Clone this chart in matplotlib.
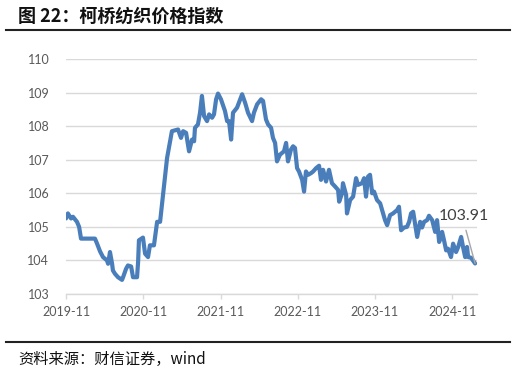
import matplotlib
matplotlib.use("Agg")
import matplotlib.pyplot as plt
import matplotlib.dates as mdates
from matplotlib.lines import Line2D
import pandas as pd

plt.rcParams['font.family'] = ['Noto Sans CJK SC', 'DejaVu Sans']

title = "图 22：柯桥纺织价格指数"
source = "资料来源：财信证券，wind"

dates = [
    "2019-11-01", "2019-11-10", "2019-11-25", "2019-12-04", "2019-12-23", "2020-01-02",
    "2020-01-11", "2020-03-17", "2020-03-27", "2020-04-10", "2020-04-24", "2020-05-13",
    "2020-05-18", "2020-05-27", "2020-06-06", "2020-06-10", "2020-06-20", "2020-07-04",
    "2020-07-23", "2020-07-28", "2020-08-11", "2020-08-20", "2020-09-04", "2020-09-13",
    "2020-10-02", "2020-10-07", "2020-10-11", "2020-10-30", "2020-11-09", "2020-11-23",
    "2020-12-02", "2020-12-21", "2021-01-05", "2021-01-19", "2021-02-21", "2021-03-16",
    "2021-04-14", "2021-04-28", "2021-05-08", "2021-05-22", "2021-06-05", "2021-06-19",
    "2021-06-29", "2021-07-03", "2021-07-17", "2021-07-27", "2021-08-05", "2021-08-15",
    "2021-08-29", "2021-09-08", "2021-09-22", "2021-10-01", "2021-10-11", "2021-10-20",
    "2021-11-03", "2021-11-22", "2021-12-02", "2021-12-11", "2021-12-21", "2021-12-30",
    "2022-01-18", "2022-01-27", "2022-02-11", "2022-02-25", "2022-03-11", "2022-03-30",
    "2022-04-08", "2022-04-23", "2022-05-12", "2022-05-21", "2022-06-04", "2022-06-14",
    "2022-06-28", "2022-07-07", "2022-07-17", "2022-07-26", "2022-08-09", "2022-08-28",
    "2022-09-07", "2022-09-16", "2022-09-30", "2022-10-10", "2022-10-19", "2022-10-29",
    "2022-11-07", "2022-11-22", "2022-12-01", "2022-12-10", "2022-12-20", "2023-01-03",
    "2023-01-13", "2023-01-27", "2023-02-10", "2023-02-19", "2023-03-01", "2023-03-15",
    "2023-03-29", "2023-04-12", "2023-04-27", "2023-05-11", "2023-05-16", "2023-05-30",
    "2023-06-03", "2023-06-18", "2023-06-22", "2023-07-07", "2023-07-21", "2023-08-04",
    "2023-08-13", "2023-09-01", "2023-09-11", "2023-09-20", "2023-09-30", "2023-10-09",
    "2023-10-19", "2023-10-28", "2023-11-11", "2023-11-26", "2023-12-10", "2023-12-19",
    "2023-12-29", "2024-01-12", "2024-01-26", "2024-02-14", "2024-02-23", "2024-03-04",
    "2024-03-18", "2024-04-01", "2024-04-11", "2024-04-20", "2024-04-30", "2024-05-09",
    "2024-05-19", "2024-06-02", "2024-06-11", "2024-06-21", "2024-07-05", "2024-07-14",
    "2024-07-29", "2024-08-12", "2024-08-21", "2024-08-31", "2024-09-14", "2024-09-23",
    "2024-10-03", "2024-10-12", "2024-10-26", "2024-11-05", "2024-11-19", "2024-11-29",
    "2024-12-13", "2024-12-22", "2025-01-01", "2025-01-10", "2025-01-15", "2025-01-29",
    "2025-02-17",
]

values = [
    105.25, 105.40, 105.25, 105.30, 105.15, 105.00,
    104.65, 104.65, 104.50, 104.27, 104.10, 104.00,
    103.90, 104.25, 103.90, 103.70, 103.60, 103.50,
    103.42, 103.50, 103.75, 103.85, 103.82, 103.50,
    103.50, 103.95, 104.60, 104.68, 104.20, 104.10,
    104.45, 104.45, 105.15, 105.15, 107.05, 107.85,
    107.90, 107.65, 107.85, 107.80, 107.25, 107.60,
    107.55, 107.95, 108.05, 108.40, 108.90, 108.30,
    108.15, 108.35, 108.25, 108.35, 108.80, 108.97,
    108.80, 108.45, 108.15, 108.15, 107.60, 108.40,
    108.55, 108.70, 108.95, 108.70, 108.40, 108.15,
    108.40, 108.65, 108.80, 108.75, 108.20, 108.05,
    107.95, 107.65, 107.50, 106.95, 107.15, 107.25,
    107.50, 106.95, 107.30, 107.40, 107.35, 106.75,
    106.65, 106.40, 106.05, 106.65, 106.55, 106.60,
    106.65, 106.75, 106.82, 106.40, 106.70, 106.35,
    106.70, 106.30, 106.20, 106.10, 105.75, 106.00,
    106.30, 105.95, 105.40, 105.80, 105.90, 106.45,
    106.25, 106.30, 106.45, 105.90, 106.50, 106.55,
    106.00, 106.05, 105.80, 105.70, 105.40, 105.20,
    105.05, 105.35, 105.40, 105.50, 105.60, 104.90,
    104.98, 105.00, 105.15, 105.40, 105.45, 105.10,
    104.70, 105.15, 104.98, 105.15, 105.20, 105.33,
    105.20, 104.85, 105.20, 104.55, 104.85, 104.60,
    104.30, 104.35, 104.10, 104.50, 104.25, 104.40,
    104.70, 104.40, 104.10, 104.40, 104.10, 104.08,
    103.91,
]

xtick_labels = ["2019-11", "2020-11", "2021-11", "2022-11", "2023-11", "2024-11"]
yticks = [103, 104, 105, 106, 107, 108, 109, 110]
last_label = "103.91"

x = pd.to_datetime(dates)

W, H = 516, 373
fig = plt.figure(figsize=(W / 100, H / 100), dpi=100)
ax = fig.add_axes([66 / W, 1 - 294 / H, (477 - 66) / W, (294 - 59) / H])

ax.plot(x, values, color="#4a7ebb", linewidth=3.0, solid_capstyle="round",
        solid_joinstyle="round", zorder=3)

ax.set_ylim(103, 110)
ax.set_yticks(yticks)
ax.set_xlim(pd.Timestamp("2019-11-01"), pd.Timestamp("2025-02-26"))
ax.set_xticks(pd.to_datetime([s + "-01" for s in xtick_labels]))
ax.set_xticklabels(xtick_labels)

ax.grid(axis="y", color="#d9d9d9", linewidth=1.0)
ax.set_axisbelow(True)
for s in ["top", "right", "left"]:
    ax.spines[s].set_visible(False)
ax.spines["bottom"].set_color("#d9d9d9")
ax.spines["bottom"].set_linewidth(1.0)

ax.tick_params(axis="y", length=0, pad=12, labelsize=9, labelcolor="#595959")
ax.tick_params(axis="x", length=3.5, width=1.0, color="#d9d9d9", pad=5,
               labelsize=9, labelcolor="#595959")
for lab in ax.get_xticklabels() + ax.get_yticklabels():
    lab.set_fontfamily(["Lato", "DejaVu Sans"])

ax.annotate(last_label, xy=(x[-1], values[-1]),
            xytext=(pd.Timestamp("2024-12-27"), 105.31),
            ha="center", va="center", fontsize=11.5, color="#404040",
            fontfamily=["Lato", "DejaVu Sans"],
            arrowprops=dict(arrowstyle="-", color="#a6a6a6", lw=1.0,
                            relpos=(0.5, 0.0), shrinkA=3, shrinkB=0))

fig.text(18 / W, 1 - 16 / H, title, fontsize=13, fontweight="bold",
         ha="left", va="center", color="#111111")
fig.add_artist(Line2D([6 / W, 510 / W], [1 - 30 / H, 1 - 30 / H],
                      color="#222222", linewidth=1.5))
fig.add_artist(Line2D([6 / W, 510 / W], [1 - 342 / H, 1 - 342 / H],
                      color="#222222", linewidth=1.5))
fig.text(18 / W, 1 - 359 / H, source, fontsize=11, style="italic",
         ha="left", va="center", color="#111111")

fig.savefig("out.png", dpi=100, facecolor="white")
